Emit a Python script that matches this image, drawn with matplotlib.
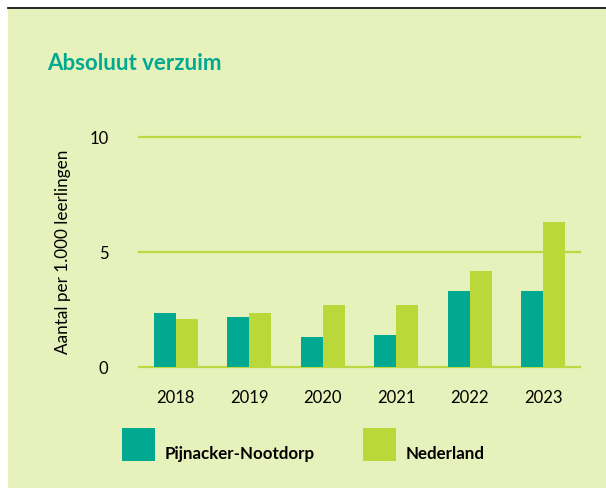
import matplotlib
matplotlib.use("Agg")
import matplotlib.pyplot as plt
from matplotlib.patches import Rectangle
from matplotlib.lines import Line2D
import numpy as np

years = ["2018", "2019", "2020", "2021", "2022", "2023"]
pijnacker = [2.35, 2.2, 1.3, 1.4, 3.3, 3.3]
nederland = [2.1, 2.35, 2.7, 2.7, 4.2, 6.3]
yticks = [0, 5, 10]

TEAL = "#02A991"
GREEN = "#BAD839"
BG = "#E6F1BB"
GRID = "#BDD843"

plt.rcParams["font.family"] = ["Lato", "DejaVu Sans"]

W, H = 606, 488
fig = plt.figure(figsize=(W / 100, H / 100), dpi=100)
fig.patch.set_facecolor("white")
fig.patches.append(Rectangle((8 / W, 0), 1 - 8 / W, (H - 9) / H, transform=fig.transFigure,
                             facecolor=BG, edgecolor="none", zorder=-5))
fig.lines.append(Line2D([8 / W, 1], [(H - 7.8) / H] * 2, transform=fig.transFigure,
                        color="black", linewidth=1.2, zorder=-4))

ax = fig.add_axes([139 / W, (H - 367.3) / H, (580 - 139) / W, (367.3 - 137) / H])
ax.set_facecolor("none")
x = np.arange(len(years))
bw = 0.3
ax.bar(x - bw / 2, pijnacker, width=bw, color=TEAL, zorder=3)
ax.bar(x + bw / 2, nederland, width=bw, color=GREEN, zorder=3)
ax.set_xlim(-0.5, len(years) - 0.5)
ax.set_ylim(0, 10)
ax.set_yticks(yticks)
ax.set_yticklabels([str(v) for v in yticks])
ax.set_xticks(x)
ax.set_xticklabels(years)
for v in yticks:
    ax.axhline(v, color=GRID, linewidth=1.6, zorder=2, clip_on=False)
for s in ax.spines.values():
    s.set_visible(False)
ax.tick_params(axis="both", length=0, labelsize=12, colors="black")
ax.tick_params(axis="y", pad=22)
ax.tick_params(axis="x", pad=16)

fig.text(63 / W, 1 - 252 / H, "Aantal per 1.000 leerlingen", rotation=90,
         ha="center", va="center", fontsize=12.3)
fig.text(47 / W, 1 - 69.5 / H, "Absoluut verzuim", ha="left", va="baseline",
         fontsize=16, fontweight="bold", color=TEAL)

# legend
for x0, col, lab in [(122, TEAL, "Pijnacker-Nootdorp"), (363, GREEN, "Nederland")]:
    fig.patches.append(Rectangle((x0 / W, 1 - 461 / H), 33 / W, 33 / H,
                                 transform=fig.transFigure, facecolor=col, edgecolor="none"))
    fig.text((x0 + 43) / W, 1 - 459 / H, lab, ha="left", va="baseline",
             fontsize=12.2, fontweight="bold")

fig.savefig("out.png", dpi=100, facecolor=fig.get_facecolor())
